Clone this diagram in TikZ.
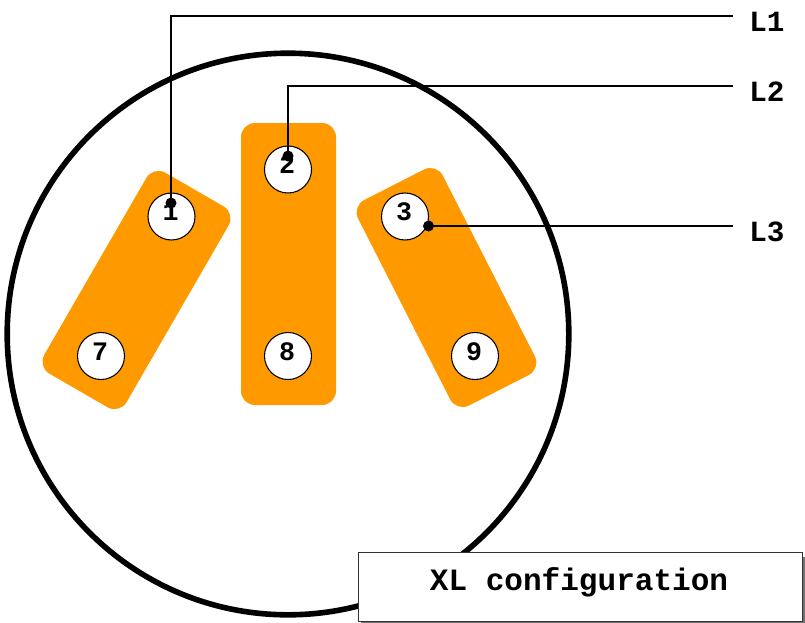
\documentclass[tikz,border=0pt]{standalone}
\usepackage{fontspec}
\setmainfont{Liberation Mono}

\begin{document}
\begin{tikzpicture}[
        x=0.75pt, y=-0.75pt,
        pad/.style={rectangle, fill=padorange, rounded corners=10.5pt, minimum width=71.25pt, outer sep=0pt},
        pin/.style={circle, draw=black, fill=white, line width=0.8pt, minimum size=35.25pt, inner sep=0pt, text height=13pt, text depth=6.4pt, font=\bfseries\fontsize{20}{20}\selectfont},
        tap dot/.style={circle, fill=black, inner sep=0pt, minimum size=8.25pt},
        lead/.style={draw=black, line width=0.8pt},
        lead label/.style={anchor=west, inner sep=0pt, font=\bfseries\fontsize{22}{22}\selectfont},
        config box/.style={rectangle, draw=black!80, fill=white, line width=0.8pt, minimum width=333pt, minimum height=52pt, inner sep=0pt},
        config shadow/.style={rectangle, fill=black!55, minimum width=333pt, minimum height=52pt, inner sep=0pt}
      ]
      \definecolor{padorange}{RGB}{255,153,0}

      \useasboundingbox (0,0) rectangle (805,622);

      \draw [line width=4.2pt] (288,334) circle (210.6pt);

      \node[pad, minimum height=174pt, rotate=-30] (pad17) at (136.5,290) {};
      \node[pad, minimum height=211.5pt] (pad28) at (288.5,264) {};
      \node[pad, minimum height=173pt, rotate=27] (pad39) at (446.5,287.5) {};

      \foreach \name/\x/\y in {1/171.5/216.5, 2/288/169.5, 3/405/216.5, 7/101/356, 8/288/356, 9/475/356} {
          \node[pin] (pin\name) at (\x,\y) {\name\kern1.5pt};
        }

      \node[tap dot] (dot1) at (171,203) {};
      \node[tap dot] (dot2) at (288,156) {};
      \node[tap dot] (dot3) at (428.5,226) {};

      \coordinate (end1) at (733,16);
      \coordinate (end2) at (733,86);
      \coordinate (end3) at (733,226);

      \draw [lead] (dot1.center) |- (end1);
      \draw [lead] (dot2.center) |- (end2);
      \draw [lead] (dot3.center) -- (end3);

      \node[lead label] (lab1) at (749,22) {L1};
      \node[lead label] (lab2) at (749,92) {L2};
      \node[lead label] (lab3) at (749,232) {L3};

      \node[config shadow] (cfgshadow) at (583,592) {};
      \node[config box] (cfgbox) at (580.5,587) {};
      \node[font=\bfseries\fontsize{23.3}{23.3}\selectfont, inner sep=0pt] (cfgtext) at (579,582) {XL configuration};

    \end{tikzpicture}
\end{document}
